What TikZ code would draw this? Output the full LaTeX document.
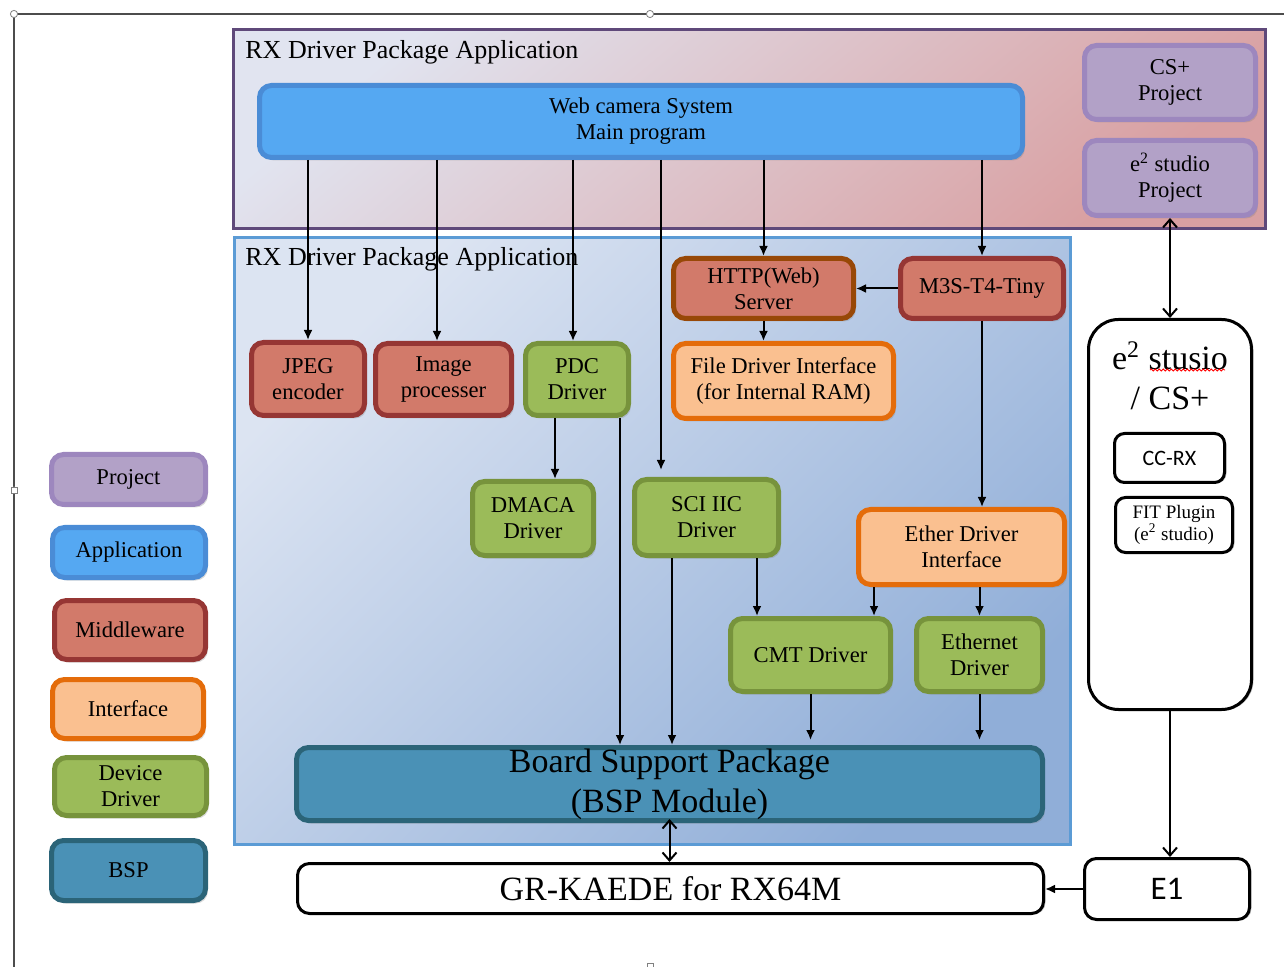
\documentclass[tikz,border=0pt]{standalone}
\usepackage{fontspec}
\setmainfont{Liberation Serif}
\newfontfamily\calibrifont{Carlito}
\usetikzlibrary{calc,arrows.meta,shadows,decorations.pathmorphing}
\definecolor{projfill}{HTML}{B2A1C7}
\definecolor{projline}{HTML}{9D87BE}
\definecolor{appfill}{HTML}{55A8F2}
\definecolor{appline}{HTML}{4A8CD6}
\definecolor{midfill}{HTML}{D27A6A}
\definecolor{midline}{HTML}{963634}
\definecolor{httpline}{HTML}{984807}
\definecolor{intffill}{HTML}{FAC090}
\definecolor{intfline}{HTML}{E46C0A}
\definecolor{drvfill}{HTML}{9BBB59}
\definecolor{drvline}{HTML}{77933C}
\definecolor{bspfill}{HTML}{4A91B6}
\definecolor{bspline}{HTML}{2B6478}
\definecolor{toplight}{HTML}{E1E4F0}
\definecolor{topdark}{HTML}{D9A0A2}
\definecolor{topline}{HTML}{5F497A}
\definecolor{lowlight}{HTML}{DCE4F2}
\definecolor{lowdark}{HTML}{90AED8}
\definecolor{lowline}{HTML}{5B9BD5}

\begin{document}
\begin{tikzpicture}[x=0.5pt, y=-0.5pt]
        \tikzstyle{box} = [draw, rectangle, rounded corners=6pt, line width=2.5pt, align=center, inner sep=0pt, font=\fontsize{11.3}{13}\selectfont, drop shadow={shadow xshift=1.2pt, shadow yshift=-1.5pt, opacity=0.3}]
        \tikzstyle{project} = [box, draw=projline, fill=projfill]
        \tikzstyle{application} = [box, draw=appline, fill=appfill]
        \tikzstyle{middleware} = [box, draw=midline, fill=midfill]
        \tikzstyle{interface} = [box, draw=intfline, fill=intffill]
        \tikzstyle{driver} = [box, draw=drvline, fill=drvfill]
        \tikzstyle{bspbox} = [box, draw=bspline, fill=bspfill]
        \tikzstyle{tool} = [draw, rectangle, rounded corners=6pt, line width=1.5pt, fill=white, align=center, inner sep=0pt, drop shadow={shadow xshift=1pt, shadow yshift=-0.5pt, opacity=0.45}]
        \tikzstyle{panel} = [draw, rectangle, line width=1.5pt, inner sep=0pt]
        \tikzstyle{arr} = [-{Latex[length=5pt,width=4.5pt]}, line width=1pt]
        \tikzstyle{openarr} = [-{Straight Barb[length=4pt,width=7pt]}, line width=1pt]
        \tikzstyle{bothopen} = [{Straight Barb[length=4pt,width=7pt]}-{Straight Barb[length=4pt,width=7pt]}, line width=1pt]
        \useasboundingbox (0,0) rectangle (1284,967);
        % frame of the drawing canvas
        \draw[black!70, line width=0.8pt] (14,967) -- (14,14) -- (1284,14);
        \draw[black!50, fill=white, line width=0.4pt] (14,14) circle (1.8pt) (650,14) circle (1.8pt);
        \draw[black!50, fill=white, line width=0.4pt] (11,487) rectangle (17,493) (647,963) rectangle (653,969);

        % panels
        \node (toppanel) [panel, draw=topline, left color=toplight, right color=topdark, shading angle=40, minimum width=516pt, minimum height=99.5pt] at (749.5,129) {};
        \node (lowpanel) [panel, draw=lowline, left color=lowlight, right color=lowdark, shading angle=45, minimum width=418pt, minimum height=303.5pt] at (652.5,541) {};
        \node (toptitle) [anchor=west, inner sep=0pt, font=\fontsize{13}{15}\selectfont] at (245,52) {RX Driver Package Application};
        \node (lowtitle) [anchor=west, inner sep=0pt, font=\fontsize{13}{15}\selectfont] at (245,259) {RX Driver Package Application};

        % application and projects
        \node (webcam) [application, minimum width=381.5pt, minimum height=36pt] at (641,121.5) {Web camera System\\Main program};
        \node (csproj) [project, minimum width=85.5pt, minimum height=37pt] at (1170,82.5) {CS+\\Project};
        \node (e2proj) [project, minimum width=85.5pt, minimum height=37.5pt] at (1170,178) {e\textsuperscript{2} studio\\Project};

        % middleware, interfaces, drivers
        \node (jpeg) [middleware, minimum width=56.5pt, minimum height=36.5pt] at (308,379) {JPEG\\encoder};
        \node (imgproc) [middleware, minimum width=68pt, minimum height=36pt] at (443.5,379.5) {Image\\processer};
        \node (pdc) [driver, minimum width=51.5pt, minimum height=36pt] at (577,379.5) {PDC\\Driver};
        \node (http) [middleware, draw=httpline, minimum width=90pt, minimum height=30pt] at (763.5,288.5) {HTTP(Web)\\Server};
        \node (m3s) [middleware, minimum width=81.5pt, minimum height=30pt] at (982,288.5) {M3S-T4-Tiny};
        \node (filedrv) [interface, minimum width=110pt, minimum height=37.5pt] at (783.5,381) {File Driver Interface\\(for Internal RAM)};
        \node (dmaca) [driver, minimum width=60.5pt, minimum height=37pt] at (533,518.5) {DMACA\\Driver};
        \node (sciiic) [driver, minimum width=72pt, minimum height=38pt] at (706.5,517.5) {SCI IIC\\Driver};
        \node (etherif) [interface, minimum width=103pt, minimum height=37.5pt] at (961.5,547) {Ether Driver\\Interface};
        \node (cmt) [driver, minimum width=80pt, minimum height=36.5pt] at (810.5,655) {CMT Driver};
        \node (ethdrv) [driver, minimum width=63pt, minimum height=36.5pt] at (979.5,655) {Ethernet\\Driver};
        \node (bsp) [bspbox, minimum width=373pt, minimum height=36.5pt, font=\fontsize{17}{20}\selectfont] at (669.5,784) {Board Support Package\\(BSP Module)};

        % board and tools
        \node (grkaede) [tool, minimum width=373pt, minimum height=25pt, font=\fontsize{17}{20}\selectfont] at (670.5,888.5) {GR-KAEDE for RX64M};
        \node (eone) [tool, minimum width=82.5pt, minimum height=30.5pt, font=\calibrifont\fontsize{16.5}{20}\selectfont] at (1167,889) {E1};
        \node (e2box) [tool, rounded corners=15pt, minimum width=81.5pt, minimum height=195pt] at (1170,514.5) {};
        \node (e2title) [align=center, inner sep=0pt, font=\fontsize{17}{20}\selectfont] at (1170,376) {e\textsuperscript{2} stusio\\/ CS+};
        \draw[red, decorate, decoration={snake, amplitude=0.5pt, segment length=2pt}, line width=0.4pt] (1150,370) -- (1225,370);
        \node (ccrx) [tool, rounded corners=5pt, minimum width=55pt, minimum height=24.5pt, font=\calibrifont\fontsize{11}{13}\selectfont] at (1169.5,458) {CC-RX};
        \node (fit) [tool, rounded corners=5pt, minimum width=58.5pt, minimum height=27.5pt, font=\fontsize{9.5}{11}\selectfont] at (1174,525) {FIT Plugin\\(e\textsuperscript{2} studio)};

        % legend
        \node (lgproj) [project, minimum width=77pt, minimum height=25pt] at (128.5,479.5) {Project};
        \node (lgapp) [application, minimum width=76.5pt, minimum height=25pt] at (129,552.5) {Application};
        \node (lgmid) [middleware, minimum width=75.5pt, minimum height=29.5pt] at (130,630) {Middleware};
        \node (lgintf) [interface, minimum width=75.5pt, minimum height=29.5pt] at (128,709) {Interface};
        \node (lgdrv) [driver, minimum width=76pt, minimum height=29pt] at (130.5,786.5) {Device\\Driver};
        \node (lgbsp) [bspbox, minimum width=77pt, minimum height=30pt] at (128.5,870.5) {BSP};

        % connections
        \draw[arr] (jpeg.north |- webcam.south) -- (jpeg.north);
        \draw[arr] ($(webcam.south)+(-204,0)$) -- ($(imgproc.north)+(-6.5,0)$);
        \draw[arr] ($(webcam.south)+(-68,0)$) -- ($(pdc.north)+(-4,0)$);
        \draw[arr] ($(webcam.south)+(20,0)$) -- ($(sciiic.north)+(-45.5,-7)$);
        \draw[arr] (http.north |- webcam.south) -- (http.north);
        \draw[arr] (m3s.north |- webcam.south) -- (m3s.north);
        \draw[arr] (m3s.west) -- (http.east);
        \draw[arr] (http.south) -- (http.south |- filedrv.north);
        \draw[arr] ($(pdc.south)+(-22,0)$) -- ($(dmaca.north)+(22,0)$);
        \draw[arr] ($(pdc.south)+(43,0)$) -- ($(bsp.north)+(-49.5,0)$);
        \draw[arr] ($(sciiic.south)+(-34.5,0)$) -- ($(bsp.north)+(2.5,0)$);
        \draw[arr] ($(sciiic.south)+(50.5,0)$) -- ($(cmt.north)+(-53.5,0)$);
        \draw[arr] (m3s.south) -- (m3s.south |- etherif.north);
        \draw[arr] ($(etherif.south)+(-87.5,0)$) -- ($(cmt.north)+(63.5,0)$);
        \draw[arr] (ethdrv.north |- etherif.south) -- (ethdrv.north);
        \draw[arr] (cmt.south) -- ($(cmt.south |- bsp.north)+(0,-5)$);
        \draw[arr] (ethdrv.south) -- ($(ethdrv.south |- bsp.north)+(0,-5)$);
        \draw[bothopen] ($(bsp.south)+(0,-4)$) -- (bsp.south |- grkaede.north);
        \draw[bothopen] (e2proj.south) -- (e2proj.south |- e2box.north);
        \draw[openarr] (e2box.south) -- (e2box.south |- eone.north);
        \draw[arr] (eone.west) -- (eone.west -| grkaede.east);
\end{tikzpicture}
\end{document}
